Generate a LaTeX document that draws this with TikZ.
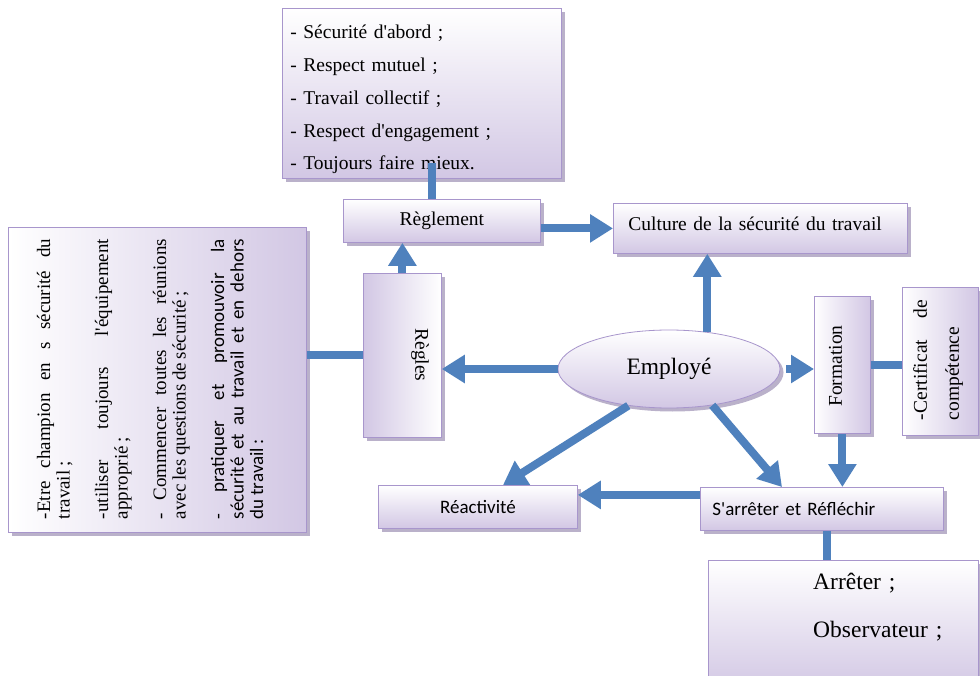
\documentclass[tikz,border=0pt]{standalone}
\usepackage{fontspec}
\setmainfont{Liberation Serif}
\newfontfamily\tnr{Liberation Serif}[WordSpace=0.75]
\newfontfamily\calib{Carlito}[WordSpace=0.85]
\usetikzlibrary{shapes.geometric,arrows.meta,shadows,calc}
\definecolor{arrowblue}{RGB}{79,129,189}
\definecolor{boxline}{RGB}{168,150,204}
\definecolor{lav}{RGB}{210,199,228}
\definecolor{shadowcol}{RGB}{140,126,168}
\tikzset{
  shadowed/.style={draw=boxline, line width=0.8pt, inner sep=0pt,
    drop shadow={shadow xshift=3.5pt, shadow yshift=-3.5pt, opacity=0.6, fill=shadowcol}},
  box/.style={shadowed, anchor=north west},
  vgrad/.style={top color=white, bottom color=lav},
  hgrad/.style={left color=white, right color=lav},
  rgrad/.style={left color=lav, right color=white},
  arr/.style={draw=arrowblue, line width=8pt, -{Triangle[width=27pt,length=23pt]}},
  con/.style={draw=arrowblue, line width=8pt},
  serif/.style={font=\tnr\fontsize{19.5}{23}\selectfont},
  sans/.style={font=\calib\fontsize{19}{23}\selectfont},
}
\begin{document}
\begin{tikzpicture}[x=1pt,y=-1pt]
\useasboundingbox (0,0) rectangle (980,676);
\clip (0,0) rectangle (980,676);
\fill[white] (0,0) rectangle (980,676);

% boxes
\node[box, vgrad, minimum width=279pt, minimum height=170pt, text width=263pt,
      align=left, font=\tnr\fontsize{19.5}{32.7}\selectfont] (valbox) at (282,8)
  {\rule{0pt}{26pt}- Sécurité d'abord ;\\- Respect mutuel ;\\- Travail collectif ;\\- Respect d'engagement ;\\- Toujours faire mieux.};
\node[box, vgrad, minimum width=197pt, minimum height=43pt, serif] (reglement) at (343,199) {Règlement};
\node[box, vgrad, minimum width=294pt, minimum height=50pt, text width=264pt, align=left, serif] (culture) at (613,203)
  {\rule[-9.5pt]{0pt}{9.5pt}Culture de la sécurité du travail};
\node[box, rgrad, minimum width=78pt, minimum height=164pt] (regles) at (363,273) {};
\node[rotate=-90, serif, inner sep=0pt] (reglestext) at (420,355) {Règles};
\node[box, hgrad, minimum width=298pt, minimum height=305pt] (lbox) at (8,227) {};
\node[rotate=90, text width=280pt, align=justify, inner sep=0pt, font=\tnr\fontsize{19}{19.5}\selectfont] (ltext) at (150,379)
  {\setlength\parindent{0pt}\setlength\parskip{19pt}%
   -Etre champion en s sécurité du\linebreak travail ;\par
   -utiliser toujours l'équipement\linebreak approprié ;\par
   - Commencer toutes les réunions\linebreak avec les questions de sécurité ;\par
   {\calib - pratiquer et promouvoir la\linebreak sécurité et au travail et en dehors\linebreak du travail :\par}};
\node[shadowed, ellipse, vgrad, minimum width=222pt, minimum height=78pt, font=\tnr\fontsize{23.5}{27}\selectfont] (employe) at (669,369) {Employé};
\node[box, hgrad, minimum width=56pt, minimum height=137pt] (formation) at (814,296) {};
\node[rotate=90, serif, inner sep=0pt] (formtext) at (835.5,366) {Formation};
\node[box, hgrad, minimum width=76pt, minimum height=148pt] (certif) at (902,287) {};
\node[rotate=90, text width=120pt, align=justify, inner sep=0pt, font=\tnr\fontsize{19.5}{32}\selectfont] (certtext) at (938,360)
  {-Certificat de\linebreak compétence};
\node[box, vgrad, minimum width=243pt, minimum height=43pt, text width=219pt, align=left, sans] (arreter) at (700,487)
  {S'arrêter et Réfléchir};
\node[box, vgrad, minimum width=199pt, minimum height=43pt, sans] (reactivite) at (378,485) {Réactivité};
\node[box, vgrad, minimum width=270pt, minimum height=130pt] (obsbox) at (708,560) {};
\node[anchor=north west, align=left, text width=160pt, inner sep=0pt, font=\tnr\fontsize{23.5}{48}\selectfont] (obstext) at (813,573)
  {Arrêter ;\\Observateur ;};

% connectors
\coordinate (v1) at ($(valbox.south)+(10.5,-16)$);
\draw[con] (v1) -- (v1 |- reglement.north);
\draw[arr] (reglement.east |- culture.west) -- (culture.west);
\draw[arr] (regles.north) -- (regles.north |- reglement.south);
\draw[con] (lbox.east |- regles.west) -- (regles.west);
\draw[arr] (employe.west) -- (employe.west -| regles.east);
\draw[arr] (employe.44) -- (employe.44 |- culture.south);
\draw[arr] ([xshift=6pt]employe.east) -- (formation.west |- employe.east);
\draw[arr] (formation.south) -- (formation.south |- arreter.north);
\draw[con] (formation.east) -- (formation.east -| certif.west);
\draw[arr] (employe.-40) -- ($(arreter.north west)+(82,0)$);
\draw[arr] (employe.-138) -- ($(reactivite.north west)+(125,0)$);
\coordinate (s1) at ($(arreter.west)+(0,-14)$);
\draw[arr] (s1) -- (s1 -| reactivite.east);
\coordinate (s2) at ($(arreter.south)+(5.5,0)$);
\draw[con] (s2) -- (s2 |- obsbox.north);
\end{tikzpicture}
\end{document}
